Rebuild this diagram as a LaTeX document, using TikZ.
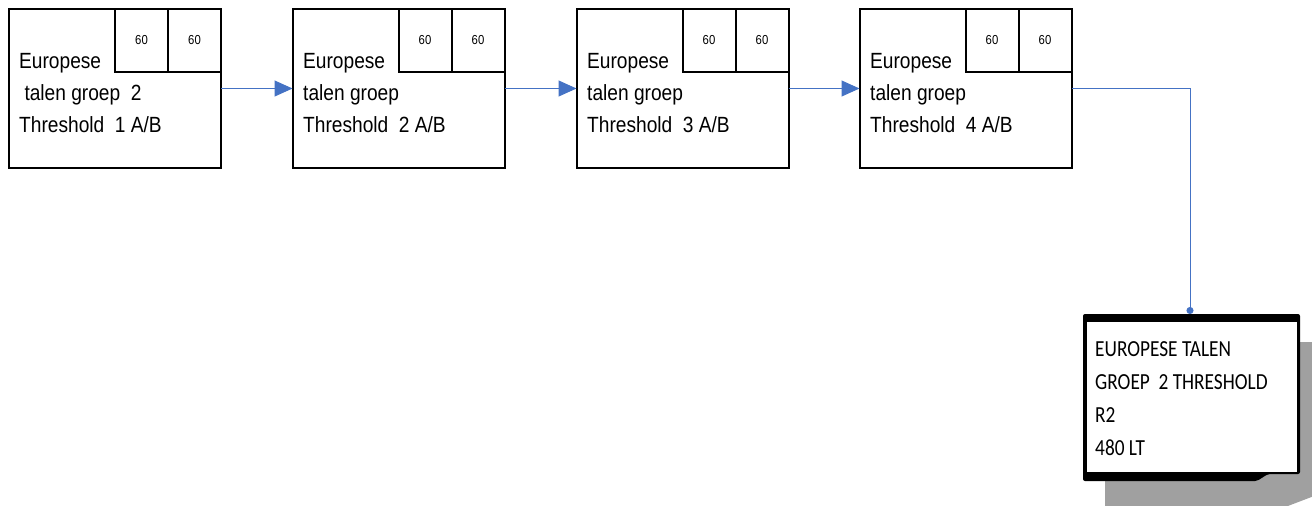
\documentclass[tikz,border=0pt]{standalone}
\usepackage{fontspec}
\setmainfont{Liberation Sans}[FakeStretch=0.87]
\newfontfamily\cardfont{Carlito}[FakeStretch=0.84]
\usetikzlibrary{positioning,arrows.meta}

\definecolor{linkblue}{HTML}{4472C4}
\definecolor{shadowgray}{HTML}{A0A0A0}

\tikzset{
  stage/.style={draw, line width=2pt, minimum width=212pt, minimum height=159pt, inner sep=0pt, outer sep=0pt},
  cell/.style={draw, line width=2pt, minimum width=53pt, minimum height=63pt, inner sep=0pt, outer sep=0pt, font=\fontsize{13}{15}\selectfont},
  stagetext/.style={anchor=base west, align=left, inner sep=0pt, font=\fontsize{22}{32}\selectfont},
  cardtext/.style={anchor=base west, align=left, inner sep=0pt, font=\cardfont\fontsize{23}{32.7}\selectfont},
  link/.style={linkblue, line width=1pt, -{Triangle[length=18pt,width=16pt]}}
}

\begin{document}
\begin{tikzpicture}[x=1pt,y=-1pt]
    \useasboundingbox (0,0) rectangle (1312,506);
    % four stages
    \node[stage] (b1) at (115,88.5) {};
    \node[stage] (b2) at (398.5,88.5) {};
    \node[stage] (b3) at (682.5,88.5) {};
    \node[stage] (b4) at (965.5,88.5) {};
    \node[cell, anchor=north east] (c1b) at (b1.north east) {60};
    \node[cell, anchor=north east] (c1a) at (c1b.north west) {60};
    \node[cell, anchor=north east] (c2b) at (b2.north east) {60};
    \node[cell, anchor=north east] (c2a) at (c2b.north west) {60};
    \node[cell, anchor=north east] (c3b) at (b3.north east) {60};
    \node[cell, anchor=north east] (c3a) at (c3b.north west) {60};
    \node[cell, anchor=north east] (c4b) at (b4.north east) {60};
    \node[cell, anchor=north east] (c4a) at (c4b.north west) {60};
    \node[stagetext] (t1) at (19,132) {Europese\\\ talen groep\ \ 2\\Threshold\ \ 1 A/B};
    \node[stagetext] (t2) at (303,132) {Europese\\talen groep\\Threshold\ \ 2 A/B};
    \node[stagetext] (t3) at (587,132) {Europese\\talen groep\\Threshold\ \ 3 A/B};
    \node[stagetext] (t4) at (870,132) {Europese\\talen groep\\Threshold\ \ 4 A/B};
    % result card with shadow
    \fill[shadowgray] (1105,342) -- (1322,342) -- (1322,493) -- (1280,509) -- (1105,509) -- cycle;
    \fill[black, rounded corners=2pt] (1083,314) -- (1300,314) -- (1300,474) -- (1268,474) -- (1257,481) -- (1083,481) -- cycle;
    \fill[white] (1087,322) rectangle (1297,472);
    \node[minimum width=217pt, minimum height=167pt, inner sep=0pt, outer sep=0pt] (card) at (1190,397.5) {};
    \node[cardtext] (ct) at (1095,455) {EUROPESE TALEN\\GROEP\ \ 2 THRESHOLD\\R2\\480 LT};
    % connectors
    \draw[link] (b1) -- (b2);
    \draw[link] (b2) -- (b3);
    \draw[link] (b3) -- (b4);
    \draw[linkblue, line width=1pt, -{Circle[length=7pt]}] (b4.east) -| (card.north);
\end{tikzpicture}
\end{document}
